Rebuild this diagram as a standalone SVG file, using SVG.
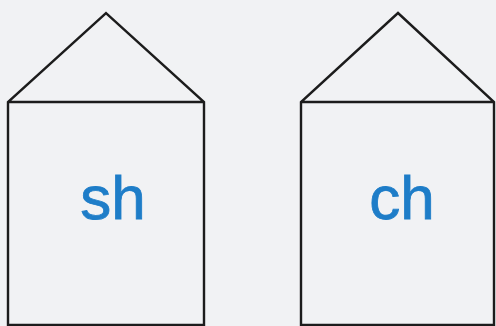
<svg xmlns="http://www.w3.org/2000/svg" width="496" height="326" viewBox="0 0 496 326">
<style>
.house{fill:none;stroke:#1c1c1c;stroke-width:2.4;stroke-linejoin:miter}
.lbl{font-family:"Liberation Sans",Arial,sans-serif;font-size:62px;fill:#1e7dc8;stroke:#1e7dc8;stroke-width:0.8;text-anchor:middle}
</style>
<rect width="496" height="326" fill="#f1f2f4"/>
<g id="house-sh">
<path class="house" d="M8,325 V102 L106,13 L204,102 V325 Z M8,102 H204"/>
<text class="lbl" x="113" y="219">sh</text>
</g>
<g id="house-ch">
<path class="house" d="M301,325 V102 L398,13 L494,102 V325 Z M301,102 H494"/>
<text class="lbl" x="402" y="219">ch</text>
</g>
<g id="connectors"/>
</svg>
